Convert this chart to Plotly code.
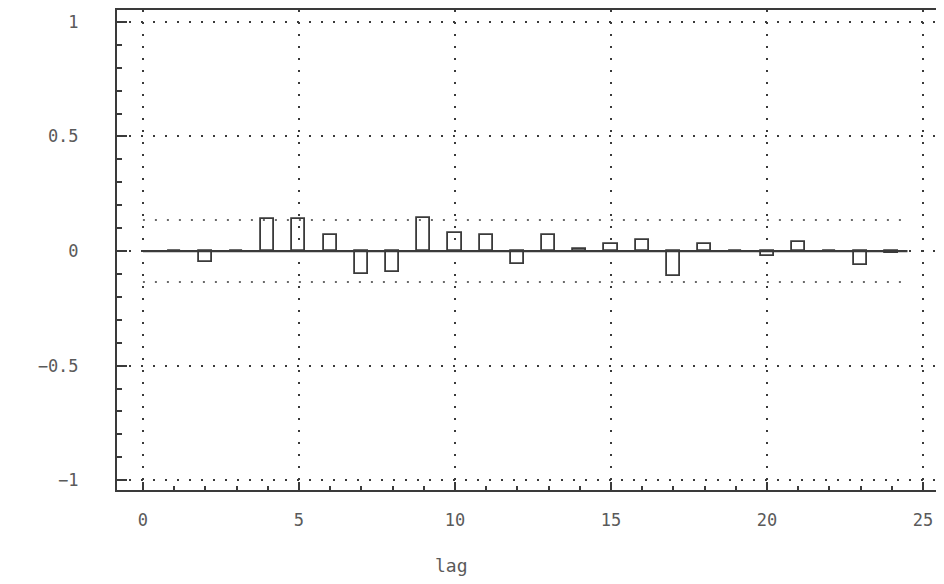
import plotly.graph_objects as go

lags = list(range(1, 25))
acf = [0.0, -0.05, 0.0, 0.14, 0.14, 0.07, -0.10, -0.09, 0.145, 0.08, 0.07, -0.055,
       0.07, 0.01, 0.03, 0.05, -0.11, 0.03, 0.0, -0.02, 0.04, 0.0, -0.06, -0.01]
conf = 0.135
xticks = [0, 5, 10, 15, 20, 25]
yticks = [-1, -0.5, 0, 0.5, 1]
ytick_text = ["\u22121", "\u22120.5", "0", "0.5", "1"]

ink = "#3a3a3a"
txt = "#5a5a5a"
font = "DejaVu Sans Mono"

fig = go.Figure()
fig.add_trace(go.Bar(x=lags, y=acf, width=0.42,
                     marker=dict(color="rgba(255,255,255,0)", line=dict(color=ink, width=1.8)),
                     showlegend=False))
fig.add_trace(go.Scatter(x=[0, 24.5], y=[0, 0], mode="lines",
                         line=dict(color=ink, width=2.2), showlegend=False))
for c in (conf, -conf):
    fig.add_trace(go.Scatter(x=[0, 24.3], y=[c, c], mode="lines",
                             line=dict(color=ink, width=1.5, dash="2px,10px"), showlegend=False))

fig.update_layout(
    width=936, height=568,
    margin=dict(l=109, r=0, t=0, b=86),
    paper_bgcolor="white", plot_bgcolor="white",
    font=dict(family=font, color=txt, size=17),
    bargap=0,
    annotations=[dict(text="lag", x=9.9, xref="x", y=-0.184, yref="paper",
                      showarrow=False, font=dict(family=font, size=18, color=txt))],
)
fig.update_xaxes(range=[-0.83, 25.67], tickvals=xticks, ticktext=[str(v) for v in xticks],
                 showgrid=True, gridcolor=ink, griddash="2px,10px", gridwidth=1.5,
                 zeroline=False, showline=True, linecolor=ink, linewidth=2, mirror=True,
                 ticks="inside", ticklen=8, tickcolor=ink, tickwidth=1.5,
                 minor=dict(dtick=1, ticks="inside", ticklen=4, tickcolor=ink, showgrid=False),
                 ticklabelstandoff=14)
fig.update_yaxes(range=[-1.043, 1.052], tickvals=yticks, ticktext=ytick_text,
                 showgrid=True, gridcolor=ink, griddash="2px,10px", gridwidth=1.5,
                 zeroline=False, showline=True, linecolor=ink, linewidth=2,
                 ticks="inside", ticklen=10, tickcolor=ink, tickwidth=1.5,
                 minor=dict(dtick=0.1, ticks="inside", ticklen=5, tickcolor=ink, showgrid=False),
                 ticklabelstandoff=33)

fig.write_html("out.html")
